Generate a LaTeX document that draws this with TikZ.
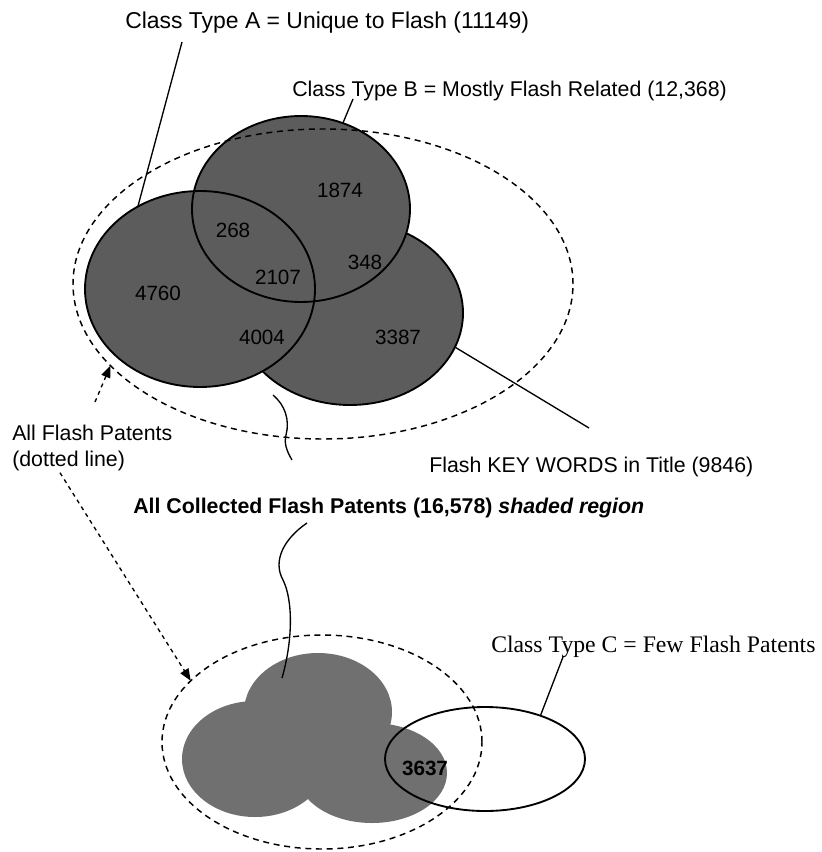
\documentclass[tikz,border=0pt]{standalone}
\usepackage{fontspec}
\setmainfont{Liberation Sans}
\newfontfamily\serifface{Liberation Serif}
\usetikzlibrary{shapes.geometric,arrows.meta}
\newdimen\pxu \pxu=0.75pt
\definecolor{speckle}{gray}{0.36}
\definecolor{specklelow}{gray}{0.44}
\tikzset{vset/.style 2 args={
    ellipse,
    inner sep=0pt,
    outer sep=0pt,
    minimum width=#1\pxu,
    minimum height=#2\pxu
  },
  rim/.style={draw,line width=1.4pt},
  dashrim/.style={draw,line width=1.1pt,dash pattern=on 4.5pt off 3.5pt},
  lbl/.style={font=\fontsize{16}{19}\selectfont,inner sep=0pt,anchor=base west},
  num/.style={font=\fontsize{15.5}{18}\selectfont,inner sep=0pt},
  lead/.style={line width=1pt},
  pointer/.style={line width=1pt,dash pattern=on 3pt off 3pt,
    -{Triangle[length=9pt,width=7pt]}},
}
\begin{document}
\begin{tikzpicture}[x=0.75pt,y=-0.75pt]
  \useasboundingbox (0,0) rectangle (821,852);
  % upper sets
  \node [vset={226}{184},fill=speckle,rim] (kwset) at (350,313) {};
  \fill [speckle] (200,289) ellipse (115 and 98);
  \fill [speckle] (301,209) ellipse (109 and 93);
  \node [vset={230}{196},rim] (clsAset) at (200,289) {};
  \node [vset={218}{186},rim] (clsBset) at (301,209) {};
  \node [vset={500}{310},dashrim] (allset) at (323,284) {};
  \node [num] (n1874) at (340,190) {1874};
  \node [num] (n268) at (233,230) {268};
  \node [num] (n2107) at (278,277) {2107};
  \node [num] (n348) at (365,262) {348};
  \node [num] (n4760) at (158,293) {4760};
  \node [num] (n4004) at (262,337) {4004};
  \node [num] (n3387) at (398,337) {3387};
  % lower sets
  \fill [specklelow] (255,759) ellipse (73 and 58) (318,712) ellipse (74 and 59)
    (372,773) ellipse (75 and 50);
  \node [vset={200}{104},rim] (fewset) at (485,759) {};
  \node [vset={320}{214},dashrim] (alllow) at (322,742) {};
  \node [num,font=\fontsize{15.5}{18}\selectfont\bfseries] (n3637) at (425,768) {3637};
  % labels
  \node [lbl,font=\fontsize{17.2}{20}\selectfont] (clsA) at (125,29) {Class Type A = Unique to Flash (11149)};
  \node [lbl] (clsB) at (292,97) {Class Type B = Mostly Flash Related (12,368)};
  \node [lbl] (kwlbl) at (429,472) {Flash KEY WORDS in Title (9846)};
  \node [lbl,anchor=north west,align=left] (allfp) at (12,425) {All Flash Patents\\(dotted line)};
  \node [lbl,font=\fontsize{16}{19}\selectfont\bfseries] (allcol) at (133,513)
    {All Collected Flash Patents (16,578) \itshape shaded region};
  \node [lbl,font=\fontsize{17.8}{21}\serifface] (clsC) at (491,652) {Class Type C = Few Flash Patents};
  \coordinate (topblob) at (273,395);
  \coordinate (lowblob) at (282,678);
  % leaders
  \draw [lead] ([xshift=57\pxu,yshift=-13\pxu]clsA.base west) -- (clsAset.127);
  \draw [lead] ([xshift=61\pxu,yshift=-2\pxu]clsB.base west) -- (clsBset.64);
  \draw [lead] (kwset.-18) -- ([xshift=160\pxu,yshift=44\pxu]kwlbl.base west);
  \draw [lead] ([xshift=72\pxu,yshift=-5\pxu]clsC.base west) -- (fewset.38);
  \draw [lead] ([xshift=159\pxu,yshift=53\pxu]allcol.base west)
    .. controls (286,450) and (284,442) .. (286,435)
    .. controls (290,420) and (285,405) .. (topblob);
  \draw [lead] ([xshift=174\pxu,yshift=-10\pxu]allcol.base west)
    .. controls (285,538) and (272,560) .. (283,580)
    .. controls (293,600) and (293,640) .. (lowblob);
  \draw [pointer] ([xshift=83\pxu,yshift=23\pxu]allfp.north west) -- (allset.201.5);
  \draw [pointer] ([xshift=48\pxu,yshift=-2\pxu]allfp.south west) -- (alllow.155.3);
\end{tikzpicture}
\end{document}
